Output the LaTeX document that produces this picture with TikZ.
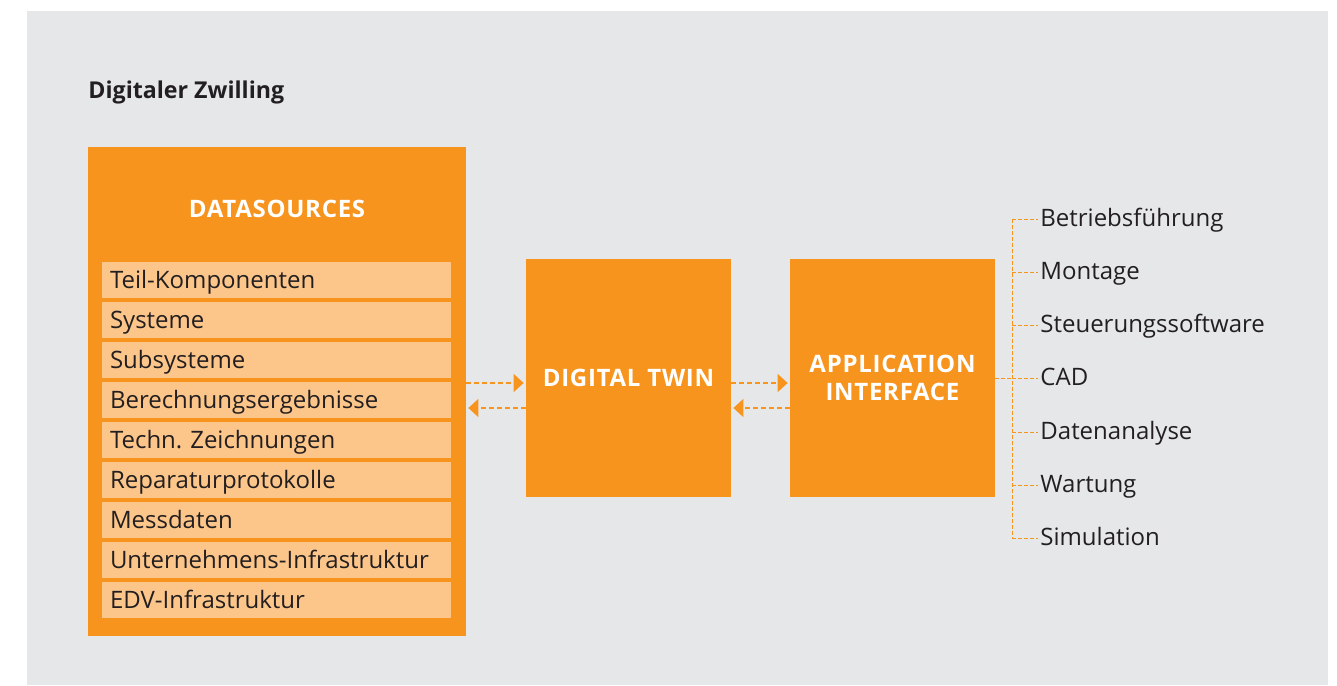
\documentclass[tikz,border=0pt]{standalone}
\usepackage{fontspec}
\setmainfont{Open Sans}
\newfontfamily\blockfont[LetterSpace=3]{Open Sans}
\usepackage{tikz}
\usetikzlibrary{arrows.meta}
\definecolor{twinorange}{RGB}{247,148,30}
\definecolor{rowfill}{RGB}{252,198,138}
\definecolor{panelgrey}{RGB}{230,231,233}
\definecolor{textdark}{RGB}{35,31,32}

\begin{document}
\begin{tikzpicture}[x=0.5pt, y=-0.5pt,
    every node/.style={text=textdark, font=\fontsize{12}{14}\selectfont},
    block/.style={fill=twinorange, text=white, font=\blockfont\bfseries\fontsize{12}{14}\selectfont, align=center, inner sep=0pt},
    row/.style={fill=rowfill, minimum height=18pt, text width=166.5pt, inner xsep=4pt, inner ysep=0pt, align=left, text height=8.6pt, text depth=0pt},
    item/.style={anchor=west, inner sep=0pt, text height=7.5pt, text depth=0pt},
    flow/.style={twinorange, line width=0.75pt, dash pattern=on 2.5pt off 1.5pt, shorten >=1pt, -{Triangle[length=5pt, width=9pt]}},
    tree/.style={twinorange, line width=0.5pt, dash pattern=on 2pt off 1pt}]
      \useasboundingbox (0,0) rectangle (1337,685);
      \fill[panelgrey] (27,11) rectangle (1328,685);
      \node[anchor=base west, inner sep=0pt, font=\bfseries\fontsize{11.6}{14}\selectfont] (title) at (88,98) {Digitaler Zwilling};

      \node[block, minimum width=189pt, minimum height=244.5pt] (ds) at (277,391.5) {};
      \node[block, fill=none] (dshead) at (277,209) {DATASOURCES};
      \node[row] (r1) at (276.5,280) {Teil-Komponenten};
      \node[row] (r2) at (276.5,320) {Systeme};
      \node[row] (r3) at (276.5,360) {Subsysteme};
      \node[row] (r4) at (276.5,400) {Berechnungsergebnisse};
      \node[row] (r5) at (276.5,440) {Techn.\ Zeichnungen};
      \node[row] (r6) at (276.5,480) {Reparaturprotokolle};
      \node[row] (r7) at (276.5,520) {Messdaten};
      \node[row] (r8) at (276.5,560) {Unternehmens-Infrastruktur};
      \node[row] (r9) at (276.5,600) {EDV-Infrastruktur};

      \node[block, minimum width=102.5pt, minimum height=119pt] (dt) at (628.5,378) {DIGITAL TWIN};
      \node[block, minimum width=102.5pt, minimum height=119pt] (ai) at (892.5,378) {APPLICATION\\INTERFACE};

      \coordinate (p1) at ([yshift=-2.5pt]dt.west);
      \coordinate (p2) at ([yshift=-15pt]dt.west);
      \coordinate (p3) at ([yshift=-2.5pt]ai.west);
      \coordinate (p4) at ([yshift=-15pt]ai.west);
      \draw[flow] (ds.east |- p1) -- (p1);
      \draw[flow] (p2) -- (ds.east |- p2);
      \draw[flow] (dt.east |- p3) -- (p3);
      \draw[flow] (p4) -- (dt.east |- p4);

      \node[item] (i1) at (1040,219) {Betriebsführung};
      \node[item] (i2) at (1040,272) {Montage};
      \node[item] (i3) at (1040,325) {Steuerungssoftware};
      \node[item] (i4) at (1040,378) {CAD};
      \node[item] (i5) at (1040,432) {Datenanalyse};
      \node[item] (i6) at (1040,485) {Wartung};
      \node[item] (i7) at (1040,538) {Simulation};
      \coordinate (br) at (1012,378);
      \draw[tree] (ai.east) -- (br);
      \draw[tree] (br |- i1.west) -- (br |- i7.west);
      \draw[tree, shorten >=1pt] (br |- i1.west) -- (i1.west);
      \draw[tree, shorten >=1pt] (br |- i2.west) -- (i2.west);
      \draw[tree, shorten >=1pt] (br |- i3.west) -- (i3.west);
      \draw[tree, shorten >=1pt] (br |- i4.west) -- (i4.west);
      \draw[tree, shorten >=1pt] (br |- i5.west) -- (i5.west);
      \draw[tree, shorten >=1pt] (br |- i6.west) -- (i6.west);
      \draw[tree, shorten >=1pt] (br |- i7.west) -- (i7.west);
    \end{tikzpicture}
\end{document}
